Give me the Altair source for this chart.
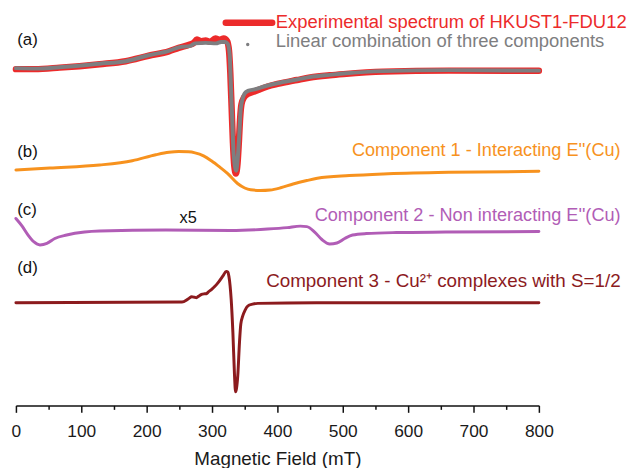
import altair as alt
import pandas as pd

# ---------------- data (field in mT, intensity in arbitrary offset units) ----------------
# (a) experimental spectrum of HKUST1-FDU12
exp_field = [0, 29, 67, 128, 168, 203, 234, 249, 265, 272, 277, 283, 290, 297, 305, 312, 318,
             323, 326, 328, 330, 332, 334, 336.5, 339, 341, 343, 345, 349, 355, 365, 385, 400,
             430, 450, 480, 501, 562, 662, 800]
exp_int = [339.5, 339.5, 341, 344.5, 347.5, 353, 357.5, 361, 364, 366, 369.5, 367.5, 368.5, 367,
           370.5, 369, 370.5, 368, 358, 335, 300, 265, 242, 234, 244, 265, 290, 304, 311, 314.5,
           317, 322, 324.5, 328.5, 331, 333.3, 334.5, 337, 338, 337.8]

# (a) linear combination of three components
fit_field = [0, 29, 67, 128, 168, 203, 234, 249, 267, 274, 290, 306, 314, 320, 324, 327, 329,
             331, 333, 337, 339, 342, 344, 350, 355, 365, 385, 400, 430, 450, 480, 501, 562,
             662, 800]
fit_int = [340.5, 340, 341.5, 345, 347.5, 353.5, 358, 361.5, 363, 365.5, 366, 365.5, 367, 367,
           365, 354, 321, 287, 254, 237, 247, 277, 300, 315, 317.5, 319, 323, 325.3, 329, 331.5,
           333.7, 335, 337.5, 338.5, 338]

# (b) component 1 - interacting E''(Cu)
c1_field = [0, 52, 128, 178, 214, 234, 249, 264, 274, 287, 299, 312, 324, 339, 350, 359, 374,
            389, 405, 424, 445, 461, 510, 562, 662, 800]
c1_int = [237.7, 239.7, 242.7, 247, 253, 255.5, 256.3, 256, 255, 252, 247, 240.5, 234, 224,
          219.5, 217.7, 217, 217.5, 219.7, 223.5, 227, 229.3, 232, 233.7, 235.3, 236.3]

# (c) component 2 - non interacting E''(Cu), x5
c2_field = [0, 9.5, 18.6, 27.7, 36.8, 47.4, 59.5, 77.6, 105, 128, 229, 329, 385, 415, 435,
            445, 457, 468, 480, 491, 503, 515, 536, 582, 657, 800]
c2_int = [188.7, 181, 172, 165, 162, 163.5, 168.5, 172, 175, 176, 177, 176.5, 178, 179.5, 181,
          180.5, 175, 167.5, 163, 164, 168.5, 172, 173.5, 174.5, 175, 175.5]

# (d) component 3 - Cu2+ complexes with S=1/2
c3_field = [0, 254, 264, 269, 273, 276, 280, 284, 289, 292, 294, 299, 304, 309, 317, 321.7,
            324.3, 325.8, 327.6, 329.3, 331.9, 334.4, 336, 337.4, 339.4, 342, 344, 347, 350.8,
            354.6, 362, 370, 460, 800]
c3_int = [103.7, 104.3, 107.7, 109.7, 109.2, 108.7, 110.5, 112, 112.7, 113, 114.3, 117, 120,
          123.7, 131, 135.3, 134.5, 130.3, 121, 107, 73.7, 30.3, 13.7, 17, 30.3, 63.7, 82, 90.3,
          96.5, 100.3, 102.2, 103, 103.7, 103.7]

x_ticks = list(range(0, 801, 50))

# ---------------- styling ----------------
FONT = "Liberation Sans"
RED = "#EC2B2B"
GRAY = "#7E7E80"
ORANGE = "#F7921E"
PURPLE = "#B15DB6"
MAROON = "#8C1B1E"

XDEF = alt.X(
    "B:Q",
    scale=alt.Scale(domain=[0, 800], nice=False, zero=False),
    axis=alt.Axis(
        values=x_ticks,
        labelExpr="datum.value % 100 === 0 ? datum.label : ''",
        tickSize={"condition": {"test": "datum.value % 100 === 0", "value": 7}, "value": 4},
        tickWidth=1.5,
        tickColor="#111111",
        domainColor="#111111",
        domainWidth=1.5,
        grid=False,
        labelFont=FONT,
        labelFontSize=17.5,
        labelColor="#1a1a1a",
        labelPadding=10,
        labelFlush=False,
        title="Magnetic Field (mT)",
        titleFont=FONT,
        titleFontSize=19,
        titleFontWeight="normal",
        titleColor="#1a1a1a",
        titlePadding=10,
    ),
)
YDEF = alt.Y("I:Q", scale=alt.Scale(domain=[0, 391]), axis=None)


def curve(field, vals, color, width):
    df = pd.DataFrame({"B": field, "I": vals})
    return alt.Chart(df).mark_line(
        color=color, strokeWidth=width, interpolate="monotone",
        strokeCap="round", strokeJoin="round"
    ).encode(x=XDEF, y=YDEF)


def texts(rows, align, size):
    df = pd.DataFrame(rows, columns=["B", "I", "t", "c"])
    return alt.Chart(df).mark_text(
        align=align, baseline="middle", font=FONT, fontSize=size
    ).encode(x=XDEF, y=YDEF, text="t:N", color=alt.Color("c:N", scale=None))


layers = [
    curve(exp_field, exp_int, RED, 6.5),
    curve(fit_field, fit_int, GRAY, 4),
    curve(c1_field, c1_int, ORANGE, 3),
    curve(c2_field, c2_int, PURPLE, 3),
    curve(c3_field, c3_int, MAROON, 3),
]

# legend (drawn inside the plot, top right)
leg_line = pd.DataFrame({"B": [321, 392], "I": [386.3, 386.3]})
layers.append(alt.Chart(leg_line).mark_line(color=RED, strokeWidth=6.5, strokeCap="round")
              .encode(x=XDEF, y=YDEF))
leg_dot = pd.DataFrame({"B": [354.6], "I": [364.3]})
layers.append(alt.Chart(leg_dot).mark_circle(color=GRAY, size=12, opacity=1)
              .encode(x=XDEF, y=YDEF))

layers.append(texts([
    [397.5, 387, "Experimental spectrum of HKUST1-FDU12", RED],
    [397.5, 367.5, "Linear combination of three components", GRAY],
], "left", 18.6))

layers.append(texts([
    [2, 369, "(a)", "#111111"],
    [2, 256, "(b)", "#111111"],
    [2, 197, "(c)", "#111111"],
    [2, 138.7, "(d)", "#111111"],
], "left", 17))

layers.append(texts([[263.6, 188.7, "x5", "#111111"]], "center", 16.5))

layers.append(texts([
    [925, 257, "Component 1 - Interacting E''(Cu)", ORANGE],
    [925, 191, "Component 2 - Non interacting E''(Cu)", PURPLE],
], "right", 18.3))
layers.append(texts([
    [925, 125.3, "Component 3 - Cu\u00b2\u207a complexes with S=1/2", MAROON],
], "right", 19))

chart = alt.layer(*layers).properties(
    width=528,
    height=391,
    padding={"left": 8, "top": 8, "right": 92, "bottom": 62},
    autosize=alt.AutoSizeParams(type="none"),
).configure_view(strokeWidth=0)

chart.save("out.html", embed_options={"renderer": "svg", "actions": False})
